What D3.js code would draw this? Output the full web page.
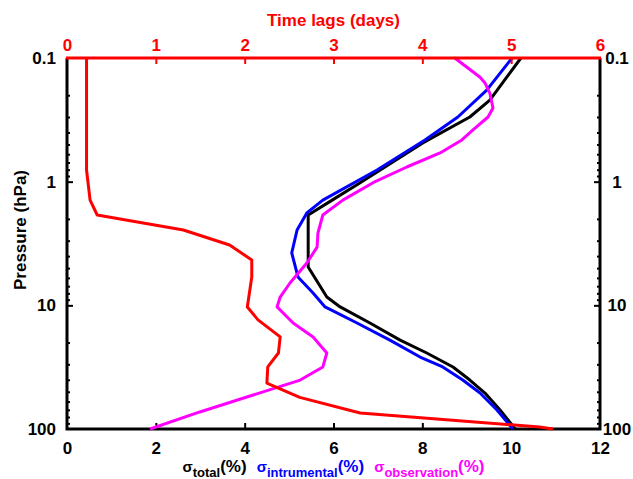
<!DOCTYPE html>
<html>
<head>
<meta charset="utf-8">
<script src="https://cdn.jsdelivr.net/npm/d3@7"></script>
<style>
  html, body { margin: 0; padding: 0; background: #fff; }
  svg { display: block; }
  text { font-family: "Liberation Sans", Arial, Helvetica, sans-serif; font-weight: bold; }
</style>
</head>
<body>
<svg id="chart" width="633" height="479"></svg>
<script>
// ---- data ----
const bottomTicks = [0, 2, 4, 6, 8, 10, 12];
const topTicks = [0, 1, 2, 3, 4, 5, 6];
const pressureTicks = [0.1, 1, 10, 100];
const pressureTickLabels = ["0.1", "1", "10", "100"];

const totalP = [0.1, 0.219, 0.300, 0.486, 1.02, 1.41, 1.86, 4.9, 8.57, 10.3, 13.9, 19.1, 24.3, 31.5, 40.2, 51.2, 70.2, 100];
const totalV = [10.22, 9.52, 9.07, 8.01, 6.60, 5.97, 5.43, 5.43, 5.85, 6.15, 6.82, 7.50, 8.10, 8.69, 9.07, 9.41, 9.75, 10.09];

const instrP = [0.1, 0.182, 0.300, 0.460, 0.805, 1.41, 1.79, 2.46, 3.77, 5.90, 7.95, 10.3, 13.9, 19.1, 26.2, 31.5, 40.2, 51.2, 70.2, 100];
const instrV = [10.02, 9.45, 8.80, 8.06, 6.98, 5.76, 5.40, 5.18, 5.06, 5.20, 5.54, 5.81, 6.53, 7.27, 7.95, 8.46, 8.91, 9.30, 9.68, 10.04];

const obsP = [0.1, 0.143, 0.159, 0.192, 0.254, 0.300, 0.382, 0.460, 0.586, 0.761, 1.02, 1.41, 1.86, 2.60, 3.38, 4.55, 6.60, 8.57, 10.3, 13.9, 18.0, 24.3, 31.5, 40.2, 55.1, 72.8, 100];
const obsV = [8.73, 9.30, 9.41, 9.52, 9.59, 9.48, 9.14, 8.89, 8.40, 7.65, 6.89, 6.21, 5.76, 5.65, 5.63, 5.40, 5.02, 4.80, 4.73, 5.09, 5.54, 5.85, 5.76, 5.25, 4.05, 2.99, 1.87];

const lagP = [0.1, 0.805, 1.41, 1.86, 2.46, 3.25, 4.30, 5.90, 10.3, 13.1, 18.0, 24.3, 31.5, 42.5, 55.5, 74.2, 96.3, 100];
const lagV = [0.22, 0.22, 0.26, 0.34, 1.31, 1.83, 2.08, 2.08, 2.03, 2.15, 2.40, 2.38, 2.26, 2.25, 2.62, 3.30, 5.32, 5.47];

// ---- layout ----
const L = 67, R = 600, T = 58, B = 429;
const svg = d3.select("#chart");

const x = d3.scaleLinear().domain([0, 12]).range([L, R]);
const xTop = d3.scaleLinear().domain([0, 6]).range([L, R]);
const y = d3.scaleLog().domain([0.1, 100]).range([T, B]);

const RED = "#ff0000", BLUE = "#0000ff", MAG = "#ff00ff";
const FONT = "'Liberation Sans', Arial, sans-serif";

// minor ticks for log axis
const minor = [];
for (let d = 0.1; d < 100; d *= 10) for (let k = 2; k <= 9; k++) minor.push(+(d * k).toPrecision(3));

// left axis
const gL = svg.append("g").attr("transform", `translate(${L},0)`);
gL.call(d3.axisLeft(y).tickValues(minor).tickSize(-3).tickFormat(""));
gL.select(".domain").remove();
const gL2 = svg.append("g").attr("transform", `translate(${L},0)`);
gL2.call(d3.axisLeft(y).tickValues(pressureTicks).tickSize(-6).tickPadding(11)
  .tickFormat((d, i) => pressureTickLabels[i]));
gL2.select(".domain").remove();

// right axis
const gR = svg.append("g").attr("transform", `translate(${R},0)`);
gR.call(d3.axisRight(y).tickValues(minor).tickSize(-3).tickFormat(""));
gR.select(".domain").remove();
const gR2 = svg.append("g").attr("transform", `translate(${R},0)`);
gR2.call(d3.axisRight(y).tickValues(pressureTicks).tickSize(-6).tickPadding(17)
  .tickFormat((d, i) => pressureTickLabels[i]));
gR2.select(".domain").remove();
gR2.selectAll("text").attr("text-anchor", "middle");

// bottom axis
const gB = svg.append("g").attr("transform", `translate(0,${B})`);
gB.call(d3.axisBottom(x).tickValues(bottomTicks).tickSize(-6).tickPadding(13).tickFormat(d3.format("d")));
gB.select(".domain").remove();

[gL, gL2, gR, gR2, gB].forEach(g => {
  g.selectAll(".tick line").attr("stroke", "#000").attr("stroke-width", 2);
  g.selectAll("text").attr("fill", "#000").style("font-size", "17px")
    .style("font-family", FONT).style("font-weight", "bold");
});
gB.selectAll(".tick").filter(d => d === 0 || d === 12).select("line").remove();
gL2.selectAll(".tick").filter(d => d === 0.1 || d === 100).select("line").remove();
gR2.selectAll(".tick").filter(d => d === 0.1 || d === 100).select("line").remove();

// frame (black)
svg.append("path").attr("d", `M${L},${T}V${B}H${R}V${T}`)
  .attr("fill", "none").attr("stroke", "#000").attr("stroke-width", 3);

// series lines
function drawSeries(P, V, xs, color) {
  const data = P.map((p, i) => ({ p, v: V[i] }));
  svg.append("path").datum(data)
    .attr("fill", "none").attr("stroke", color).attr("stroke-width", 3)
    .attr("stroke-linejoin", "round")
    .attr("d", d3.line().x(d => xs(d.v)).y(d => y(d.p)));
}
drawSeries(totalP, totalV, x, "#000");
drawSeries(instrP, instrV, x, BLUE);
drawSeries(obsP, obsV, x, MAG);

// top axis (red)
const gT = svg.append("g").attr("transform", `translate(0,${T})`);
gT.call(d3.axisTop(xTop).tickValues(topTicks).tickSize(-6).tickPadding(7).tickFormat(d3.format("d")));
gT.select(".domain").remove();
gT.selectAll(".tick line").attr("stroke", RED).attr("stroke-width", 2);
gT.selectAll(".tick").filter(d => d === 0 || d === 6).select("line").remove();
gT.selectAll("text").attr("fill", RED).style("font-size", "17px")
  .style("font-family", FONT).style("font-weight", "bold");
svg.append("line").attr("x1", L - 1).attr("x2", R + 1).attr("y1", T).attr("y2", T)
  .attr("stroke", RED).attr("stroke-width", 3);

drawSeries(lagP, lagV, xTop, RED);

// titles
svg.append("text").attr("x", (L + R) / 2).attr("y", 26).attr("text-anchor", "middle")
  .attr("fill", RED).style("font-size", "17px").text("Time lags (days)");

svg.append("text").attr("transform", "translate(26,230) rotate(-90)")
  .attr("text-anchor", "middle").attr("fill", "#000").style("font-size", "17px")
  .text("Pressure (hPa)");

// x label made of three coloured parts
const leg = svg.append("text").attr("x", (L + R) / 2).attr("y", 472)
  .attr("text-anchor", "middle").style("font-size", "16px");
const items = [
  { sub: "total", color: "#000" },
  { sub: "intrumental", color: BLUE },
  { sub: "observation", color: MAG }
];
items.forEach((it, i) => {
  leg.append("tspan").attr("fill", it.color).attr("dx", i === 0 ? 0 : 10)
    .style("font-size", "15px").text("σ");
  leg.append("tspan").attr("fill", it.color).attr("dy", 5).style("font-size", "13px").text(it.sub);
  leg.append("tspan").attr("fill", it.color).attr("dy", -5).style("font-size", "17px").text("(%)");
});
</script>
</body>
</html>
